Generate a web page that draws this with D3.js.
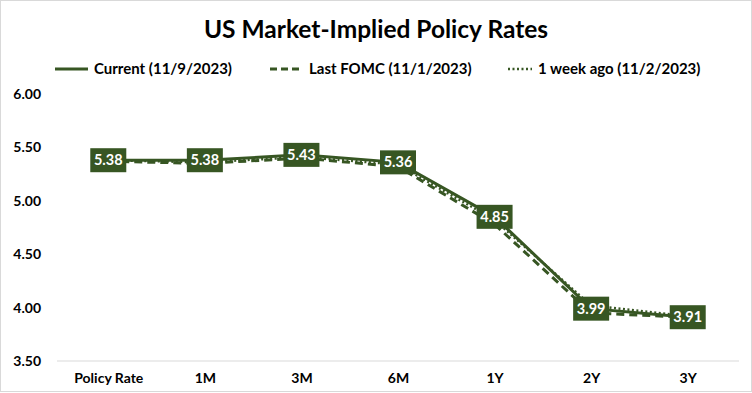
<!DOCTYPE html>
<html>
<head>
<meta charset="utf-8">
<script src="https://cdn.jsdelivr.net/npm/d3@7"></script>
<style>
  body { margin: 0; background: #fff; }
  svg { font-family: Lato, "Open Sans", sans-serif; }
</style>
</head>
<body>
<div id="chart"></div>
<script>
const categories = ['Policy Rate', '1M', '3M', '6M', '1Y', '2Y', '3Y'];
const current = [5.38, 5.38, 5.43, 5.36, 4.85, 3.99, 3.91];
const lastFomc = [5.37, 5.35, 5.40, 5.32, 4.78, 3.95, 3.91];
const weekAgo = [5.38, 5.36, 5.41, 5.34, 4.82, 4.02, 3.92];
const yTicks = [3.5, 4.0, 4.5, 5.0, 5.5, 6.0];
const seriesNames = ['Current (11/9/2023)', 'Last FOMC (11/1/2023)', '1 week ago (11/2/2023)'];

const W = 752, H = 393;
const green = '#375623';
const margin = { top: 94, right: 16, bottom: 32, left: 60 };

const svg = d3.select('#chart').append('svg')
  .attr('width', W).attr('height', H);

svg.append('rect')
  .attr('x', 0.5).attr('y', 0.5)
  .attr('width', W - 1).attr('height', H - 2)
  .attr('fill', '#fff').attr('stroke', '#d9d9d9');

const x = d3.scalePoint()
  .domain(categories)
  .range([margin.left, W - margin.right])
  .padding(0.5);

const y = d3.scaleLinear()
  .domain([3.5, 6.0])
  .range([H - margin.bottom, margin.top]);

// title
svg.append('text')
  .attr('x', W / 2).attr('y', 38)
  .attr('text-anchor', 'middle')
  .attr('font-size', 24.5).attr('font-weight', 700)
  .attr('fill', '#000')
  .text('US Market-Implied Policy Rates');

// y axis (labels only)
const yAxis = svg.append('g')
  .attr('transform', `translate(${margin.left - 16},0)`)
  .call(d3.axisLeft(y).tickValues(yTicks).tickFormat(d3.format('.2f')).tickSize(0));
yAxis.select('.domain').remove();
yAxis.selectAll('text')
  .attr('font-family', 'Lato, sans-serif')
  .attr('font-size', 14).attr('font-weight', 700).attr('fill', '#000');

// baseline
svg.append('line')
  .attr('x1', 57).attr('x2', W - 13)
  .attr('y1', y(3.5)).attr('y2', y(3.5))
  .attr('stroke', '#d9d9d9');

// x axis
const xAxis = svg.append('g')
  .attr('transform', `translate(0,${y(3.5)})`)
  .call(d3.axisBottom(x).tickSize(0).tickPadding(12));
xAxis.select('.domain').remove();
xAxis.selectAll('text')
  .attr('font-family', 'Lato, sans-serif')
  .attr('font-size', 14).attr('font-weight', 700).attr('fill', '#000');

const line = d3.line()
  .x((d, i) => x(categories[i]))
  .y(d => y(d));

const styles = [
  { data: current, dash: null, width: 3 },
  { data: lastFomc, dash: '8,5', width: 3 },
  { data: weekAgo, dash: '2,2.5', width: 2.5 }
];

// draw back to front: dotted, dashed, solid
[2, 1, 0].forEach(k => {
  const s = styles[k];
  svg.append('path')
    .datum(s.data)
    .attr('d', line)
    .attr('fill', 'none')
    .attr('stroke', green)
    .attr('stroke-width', s.width)
    .attr('stroke-dasharray', s.dash);
});

// data labels for current
const labels = svg.append('g').selectAll('g')
  .data(current)
  .join('g')
  .attr('transform', (d, i) => `translate(${x(categories[i])},${y(d)})`);
labels.append('rect')
  .attr('x', -18).attr('y', -12)
  .attr('width', 36).attr('height', 24)
  .attr('fill', green);
labels.append('text')
  .attr('text-anchor', 'middle')
  .attr('dy', '0.35em')
  .attr('font-size', 14.5).attr('font-weight', 700)
  .attr('fill', '#fff')
  .text(d => d3.format('.2f')(d));

// legend
const legendX = [55, 270, 508];
const legendLen = [33, 33, 24];
const legend = svg.append('g').selectAll('g')
  .data(seriesNames)
  .join('g')
  .attr('transform', (d, i) => `translate(${legendX[i]},69)`);
legend.append('line')
  .attr('x1', 0).attr('x2', (d, i) => legendLen[i])
  .attr('stroke', green)
  .attr('stroke-width', (d, i) => styles[i].width)
  .attr('stroke-dasharray', (d, i) => i === 1 ? '7,4' : styles[i].dash);
legend.append('text')
  .attr('x', (d, i) => legendLen[i] + 6)
  .attr('dy', '0.35em')
  .attr('font-size', 15).attr('font-weight', 700)
  .attr('fill', '#000')
  .text(d => d);
</script>
</body>
</html>
